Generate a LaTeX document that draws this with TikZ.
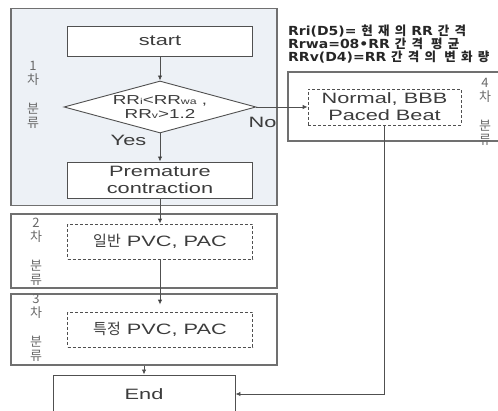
\documentclass[tikz,border=0pt]{standalone}
\usepackage{fontspec}
\setmainfont{Liberation Sans}[FakeStretch=1.45]
\newfontfamily\krfont{Noto Sans CJK KR}
\newfontfamily\deffont{DejaVu Sans}[FakeStretch=1.12]
\newfontfamily\krdeffont{Noto Sans CJK KR}[LetterSpace=42]
\usetikzlibrary{arrows.meta}
\usetikzlibrary{positioning}
\usetikzlibrary{shapes.geometric}

\definecolor{panelfill}{RGB}{237,241,246}
\definecolor{linegray}{RGB}{80,80,80}
\definecolor{framegray}{RGB}{112,112,112}
\definecolor{textgray}{RGB}{60,60,60}
\definecolor{labelgray}{RGB}{105,105,105}

\newcommand{\hangul}[1]{{\krfont #1}}
\newcommand{\hangulb}[1]{{\krdeffont\bfseries #1}}
\newcommand{\lowsub}[1]{\raisebox{-0.8pt}{\fontsize{8.5}{8.5}\selectfont #1}}

\begin{document}
\begin{tikzpicture}[x=1pt,y=1pt,node distance=60pt,on grid,auto,
    >={Latex[length=5pt,width=4.5pt]},
    font=\fontsize{15}{17}\selectfont,text=textgray,
    panel/.style={draw=framegray,line width=1.3pt,minimum width=266pt,inner sep=0pt},
    box/.style={draw=linegray,line width=0.9pt,fill=white,minimum width=185pt,align=center,inner sep=0pt},
    dashbox/.style={box,fill=none,line width=0.8pt,dash pattern=on 3pt off 2pt},
    decision/.style={diamond,draw=linegray,line width=0.9pt,fill=white,minimum width=192pt,
      minimum height=52pt,aspect=3.7,inner sep=0pt,align=center,font=\fontsize{13}{14}\selectfont},
    grouplabel/.style={text=labelgray,align=center,font=\krfont\fontsize{13}{14}\selectfont},
    flow/.style={->,draw=linegray,line width=0.9pt}]
   \useasboundingbox (0,0) rectangle (498,411);
   % stage panels
   \node[panel,fill=panelfill,minimum height=197pt] (p_1) at (144,304) {};
   \node[panel,minimum height=74pt] (p_2) at (144,160) {};
   \node[panel,minimum height=71pt] (p_3) at (144,81.5) {};
   \node[panel,minimum width=217pt,minimum height=69pt] (p_4) at (396.5,304.5) {};
   \node[grouplabel] (g_1) at (33,316) {1\\차\\[15pt]분\\류};
   \node[grouplabel] (g_2) at (36,159) {2\\차\\[15pt]분\\류};
   \node[grouplabel] (g_3) at (36,83) {3\\차\\[15pt]분\\류};
   \node[grouplabel] (g_4) at (485,299) {4\\차\\[15pt]분\\류};
   % flow
   \node[box,minimum height=30pt] (start) at (160,370) {start};
   \node[decision] (cond) [below=66pt of start] {RR\lowsub{i}<RR\lowsub{wa} ,\\RR\lowsub{v}>1.2};
   \node[box,minimum height=36pt] (prem) [below=73pt of cond] {Premature\\contraction};
   \node[dashbox,minimum height=35pt] (pvc_1) [below=61.5pt of prem] {\hangul{일반} PVC, PAC};
   \node[dashbox,minimum height=35pt] (pvc_2) [below=88pt of pvc_1] {\hangul{특정} PVC, PAC};
   \node[dashbox,minimum width=153pt,minimum height=36pt] (normal) [right=224.5pt of cond] {Normal, BBB\\Paced Beat};
   \node[box,minimum width=182pt,minimum height=38pt] (stop) [below left=64.5pt and 16pt of pvc_2] {End};
   \node[anchor=north west,align=left,inner sep=0pt,text=black!85,
     font=\deffont\bfseries\fontsize{12.5}{13}\selectfont] (defs) at (288,386)
     {Rri(D5)= \hangulb{현재의} RR \hangulb{간격}\\
      Rrwa=08•RR \hangulb{간격 평균}\\
      RRv(D4)=RR \hangulb{간격의 변화량}};
    \path[flow]
    (start) edge (cond)
    (cond) edge node[swap,pos=0.24,xshift=-10pt] {Yes} (prem)
    (cond) edge node[swap,pos=0.12,yshift=-6pt] {No} (normal)
    (prem) edge (pvc_1)
    (pvc_1) edge[shorten >=7pt] (pvc_2);
   \draw[flow] (p_3.south -| stop.north) -- (stop.north);
   \draw[flow] (normal.south) |- (stop.east);
\end{tikzpicture}
\end{document}
